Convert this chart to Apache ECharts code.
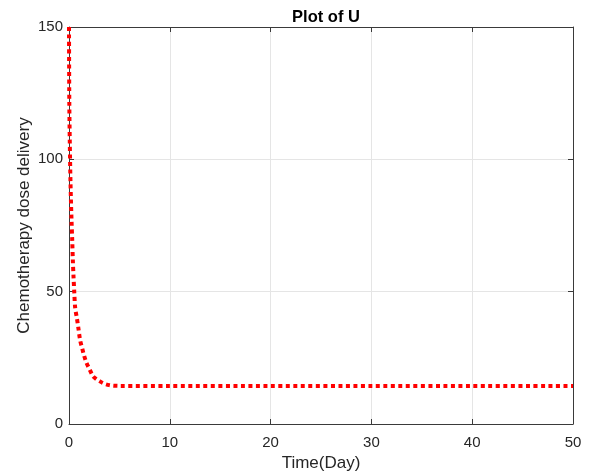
<!DOCTYPE html>
<html>
<head>
<meta charset="utf-8">
<script src="https://cdn.jsdelivr.net/npm/echarts@6/dist/echarts.min.js"></script>
<style>
  html, body { margin: 0; padding: 0; background: #fff; }
  #chart { width: 589px; height: 475px; }
</style>
</head>
<body>
<div id="chart"></div>
<script>
// Dose delivered over time (day -> dose)
const timeDays = [0, 0.03, 0.08, 0.15, 0.25, 0.32, 0.38, 0.45, 0.52, 0.61, 0.78, 0.91, 1.11, 1.31, 1.51, 1.75, 2.04, 2.37, 2.7, 3.03, 3.35, 3.69, 4.0, 4.35, 5, 10, 20, 30, 40, 50];
const doseValues = [150, 122, 106, 91, 77, 69.5, 62, 55.5, 50, 44, 40, 36.8, 31.5, 28.6, 25.7, 23, 20.7, 18.1, 17.0, 16.2, 15.5, 15.0, 14.7, 14.5, 14.4, 14.4, 14.4, 14.4, 14.4, 14.4];
const xTicks = [0, 10, 20, 30, 40, 50];
const yTicks = [0, 50, 100, 150];

const font = 'Liberation Sans, Arial, sans-serif';
const frameColor = '#3a3a3a';
const textColor = '#262626';

const chart = echarts.init(document.getElementById('chart'), null, { renderer: 'canvas' });

const points = timeDays.map((t, i) => [t, doseValues[i]]);

const tickStyle = { show: true, inside: true, length: 5, lineStyle: { color: frameColor, width: 1 } };

chart.setOption({
  animation: false,
  backgroundColor: '#fff',
  title: {
    text: 'Plot of U',
    left: 321, top: 4, textAlign: 'center',
    textStyle: { fontFamily: font, fontSize: 16.5, fontWeight: 'bold', color: '#000' }
  },
  grid: { left: 69, right: 16, top: 27, bottom: 51, containLabel: false, outerBoundsMode: 'none' },
  xAxis: [{
    type: 'value', min: xTicks[0], max: xTicks[xTicks.length - 1], interval: 10,
    name: 'Time(Day)', nameLocation: 'middle', nameGap: 31,
    nameTextStyle: { fontFamily: font, fontSize: 17, color: textColor },
    axisLine: { show: true, onZero: false, lineStyle: { color: frameColor, width: 1 } },
    axisTick: tickStyle,
    axisLabel: { fontFamily: font, fontSize: 15, color: textColor, margin: 11 },
    splitLine: { show: true, lineStyle: { color: '#e5e5e5', width: 1 } }
  }, {
    type: 'value', position: 'top', min: xTicks[0], max: xTicks[xTicks.length - 1], interval: 10,
    axisLine: { show: true, onZero: false, lineStyle: { color: frameColor, width: 1 } },
    axisTick: tickStyle,
    axisLabel: { show: false }, splitLine: { show: false }
  }],
  yAxis: [{
    type: 'value', min: yTicks[0], max: yTicks[yTicks.length - 1], interval: 50,
    name: 'Chemotherapy dose delivery', nameLocation: 'middle', nameGap: 36,
    nameMoveOverlap: false,
    nameTextStyle: { fontFamily: font, fontSize: 17, color: textColor },
    axisLine: { show: true, onZero: false, lineStyle: { color: frameColor, width: 1 } },
    axisTick: tickStyle,
    axisLabel: { fontFamily: font, fontSize: 15, color: textColor, margin: 6 },
    splitLine: { show: true, lineStyle: { color: '#e5e5e5', width: 1 } }
  }, {
    type: 'value', position: 'right', min: yTicks[0], max: yTicks[yTicks.length - 1], interval: 50,
    axisLine: { show: true, onZero: false, lineStyle: { color: frameColor, width: 1 } },
    axisTick: tickStyle,
    axisLabel: { show: false }, splitLine: { show: false }
  }],
  series: [{
    type: 'line',
    data: points,
    showSymbol: false,
    smooth: 0.3,
    lineStyle: { color: '#ff0000', width: 4, type: [4, 3.5], cap: 'butt' }
  }]
});
</script>
</body>
</html>
